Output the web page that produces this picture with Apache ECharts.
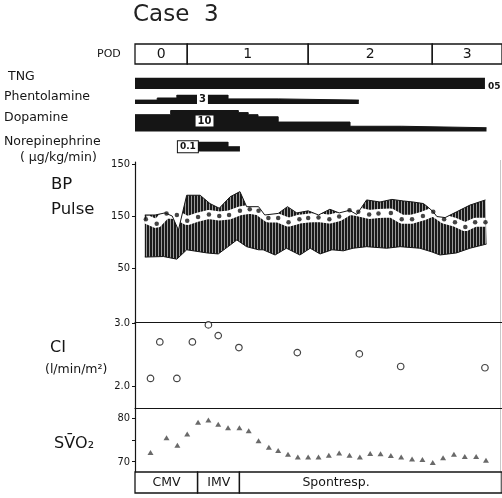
<!DOCTYPE html>
<html lang="en">
<head>
<meta charset="UTF-8">
<title>Case 3</title>
<script src="https://cdn.jsdelivr.net/npm/echarts@6/dist/echarts.min.js"></script>
<style>
  html, body { margin: 0; padding: 0; background: #fff; }
  #chart { width: 502px; height: 498px; }
</style>
</head>
<body>
<div id="chart"></div>
<script>
// time axis = hours from start of record
var xMax = 71;

// POD days
var podStart = [0, 10.1, 33.5, 57.5];
var podEnd = [10.1, 33.5, 57.5, 71];
var podLabels = ['0', '1', '2', '3'];

// drug infusions, step data [hour, dose µg/kg/min]
var tng = [[0, 0.5], [67.7, 0.5]];
var phentolamine = [[0, 1.3], [4.3, 2], [8.1, 3], [18.0, 1.7], [27.7, 1.3], [43.3, 1.3]];
var dopamine = [[0, 8], [6.9, 10], [20.0, 9], [21.9, 8], [23.8, 7], [27.7, 4.5], [41.6, 2.5], [51.6, 1.8], [68.0, 1.8]];
var norepinephrine = [[8.3, 0.1], [18.0, 0.05], [20.3, 0.05]];
var doseLabels = ['05', '3', '10', '0.1'];

// BP (mmHg) and pulse
var sysBP = [[1.9, 152], [3.9, 152], [5.8, 156], [7.2, 150], [8.4, 123], [10.0, 190], [12.6, 190], [14.5, 174],
  [16.3, 165], [18.4, 187], [20.3, 197], [21.6, 168], [23.9, 168], [25.1, 152], [27.7, 155], [29.5, 168],
  [31.3, 156], [33.5, 160], [35.5, 152], [37.7, 163], [39.5, 156], [41.5, 161], [42.9, 153], [44.8, 181],
  [47.4, 177], [49.7, 182], [51.9, 179], [53.8, 177], [55.8, 174], [56.7, 167], [57.7, 158], [58.4, 149],
  [60.0, 147], [62.2, 158], [64.8, 171], [67.8, 181]];
var diaBP = [[1.9, 71], [5.5, 72], [8.1, 67], [10.0, 85], [13.9, 79], [16.1, 77], [18.4, 94], [19.7, 104],
  [21.6, 91], [23.9, 85], [24.8, 85], [27.1, 75], [29.3, 88], [31.9, 75], [33.9, 88], [35.8, 77], [38.1, 85],
  [40.3, 83], [42.2, 88], [44.8, 91], [48.7, 88], [51.3, 91], [55.1, 88], [57.4, 81], [59.0, 75], [62.2, 79],
  [64.8, 88], [68.0, 96]];
var pulseTime = [2.1, 4.2, 6.1, 8.1, 10.1, 12.2, 14.3, 16.3, 18.2, 20.3, 22.2, 23.9, 25.8, 27.7, 29.7, 31.8, 33.5,
  35.5, 37.6, 39.5, 41.5, 43.2, 45.3, 47.1, 49.5, 51.6, 53.6, 55.7, 57.7, 59.8, 61.9, 63.9, 65.8, 67.8];
var pulseValue = [144, 135, 155, 152, 141, 148, 153, 150, 152, 160, 163, 160, 146, 146, 138, 144, 146,
  147, 144, 149, 161, 158, 153, 155, 156, 144, 144, 150, 158, 144, 138, 129, 138, 138];
var bpTicks = [50, 150, 250];
var bpTickLabels = ['50', '150', '150'];

// cardiac index
var ciTime = [3.0, 4.8, 8.1, 11.1, 14.2, 16.1, 20.1, 31.4, 43.4, 51.4, 67.7];
var ciValue = [2.12, 2.70, 2.12, 2.70, 2.97, 2.80, 2.61, 2.53, 2.51, 2.31, 2.29];
var ciTicks = [2.0, 3.0];

// SvO2 (%)
var svTime = [3.0, 6.1, 8.2, 10.1, 12.2, 14.2, 16.1, 18.0, 20.2, 22.0, 23.9, 25.9, 27.7, 29.6, 31.5, 33.5, 35.5,
  37.5, 39.5, 41.5, 43.5, 45.5, 47.5, 49.5, 51.5, 53.6, 55.6, 57.6, 59.6, 61.7, 63.8, 66.0, 67.9];
var svValue = [72.1, 75.5, 73.8, 76.4, 79.1, 79.6, 78.6, 77.8, 77.8, 77.1, 74.8, 73.3, 72.6, 71.7, 71.1, 71.1, 71.1,
  71.5, 72.0, 71.5, 71.1, 71.9, 71.8, 71.4, 71.1, 70.6, 70.5, 69.8, 70.9, 71.7, 71.2, 71.2, 70.3];
var svTicks = [70, 75, 80];
var svLabels = [70, 80];

// ventilation mode
var ventModes = ['CMV', 'IMV', 'Spontresp.'];
var ventStart = [0, 12.1, 20.2];
var ventEnd = [12.1, 20.2, 71];
var ventLabelAt = [6.1, 16.2, 38.9];

var ink = '#151515';
var font = 'DejaVu Sans';
var numFont = "'DejaVu Sans Condensed', 'DejaVu Sans'";

// vertical hatch for the BP band
var hatch = document.createElement('canvas');
hatch.width = 3; hatch.height = 2;
var hc = hatch.getContext('2d');
hc.fillStyle = '#9a9a9a'; hc.fillRect(0, 0, 3, 2);
hc.fillStyle = '#1a1a1a'; hc.fillRect(0, 0, 2, 2);

var myChart = echarts.init(document.getElementById('chart'));

var grids = [
  { top: 44, height: 20 },   // POD
  { top: 78, height: 11 },   // TNG
  { top: 95, height: 9 },    // Phentolamine
  { top: 110.5, height: 21 },// Dopamine
  { top: 142, height: 9.5 }, // Norepinephrine
  { top: 162, height: 160 }, // BP
  { top: 322, height: 86 },  // CI
  { top: 408, height: 64 },  // SvO2
  { top: 472, height: 21 }   // ventilation
].map(function (g) { return { left: 135, width: 367, top: g.top, height: g.height }; });

var xAxes = grids.map(function (g, i) {
  var ax = { gridIndex: i, type: 'value', min: 0, max: xMax, show: false };
  if (i === 6 || i === 7) {
    ax.show = true;
    ax.position = 'top';
    ax.axisLine = { show: true, onZero: false, lineStyle: { color: ink, width: 1.2 } };
    ax.axisTick = { show: false };
    ax.axisLabel = { show: false };
    ax.splitLine = { show: false };
  }
  return ax;
});

function hiddenY(i, max) {
  return { gridIndex: i, type: 'value', min: 0, max: max, show: false };
}
function shownY(i, min, max, ticks, labels, fmt) {
  return {
    gridIndex: i, type: 'value', min: min, max: max,
    axisLine: { show: true, onZero: false, lineStyle: { color: ink, width: 1.2 } },
    axisTick: { show: true, length: 3, customValues: ticks, lineStyle: { color: ink } },
    axisLabel: { show: true, customValues: labels, margin: 5, color: ink, fontSize: 11,
      fontFamily: numFont, formatter: fmt },
    splitLine: { show: false }
  };
}

var yAxes = [
  hiddenY(0, 1), hiddenY(1, 0.5), hiddenY(2, 3), hiddenY(3, 10), hiddenY(4, 0.1),
  shownY(5, -54, 254, bpTicks, bpTicks, function (v) { return bpTickLabels[bpTicks.indexOf(v)]; }),
  shownY(6, 1.651, 3.016, ciTicks, ciTicks, function (v) { return v.toFixed(1); }),
  shownY(7, 67.62, 82.37, svTicks, svLabels, function (v) { return String(v); }),
  hiddenY(8, 1)
];

function boxSeries(idx, starts, ends, labels, labelAt, fontSize) {
  return {
    type: 'custom', xAxisIndex: idx, yAxisIndex: idx, silent: true,
    data: starts.map(function (s, i) { return [s, ends[i], i]; }),
    renderItem: function (params, api) {
      var i = api.value(2);
      var p0 = api.coord([api.value(0), 1]);
      var p1 = api.coord([api.value(1), 0]);
      var cx = labelAt ? api.coord([labelAt[i], 0])[0] : (p0[0] + p1[0]) / 2;
      return {
        type: 'group',
        children: [
          { type: 'rect', shape: { x: p0[0], y: p0[1], width: p1[0] - p0[0], height: p1[1] - p0[1] },
            style: { fill: null, stroke: ink, lineWidth: 1.3 } },
          { type: 'text', style: { text: labels[i], x: cx, y: (p0[1] + p1[1]) / 2 + 0.5, align: 'center',
            verticalAlign: 'middle', fontSize: fontSize, fontFamily: font, fill: ink } }
        ]
      };
    }
  };
}

function drugSeries(idx, data, mark) {
  var s = {
    type: 'line', xAxisIndex: idx, yAxisIndex: idx, step: 'end', data: data, symbol: 'none',
    lineStyle: { color: ink, width: 1 }, areaStyle: { color: ink, opacity: 1 }, silent: true
  };
  if (mark) s.markPoint = { symbol: 'rect', symbolSize: 0, silent: true, data: [mark] };
  return s;
}

var labelBox = { show: true, color: ink, fontSize: 10, fontWeight: 'bold', fontFamily: font,
  backgroundColor: '#fff', padding: [1, 2, 0, 2], lineHeight: 10 };

var pulseData = pulseTime.map(function (t, i) { return [t, pulseValue[i]]; });

var option = {
  animation: false,
  backgroundColor: '#fff',
  grid: grids,
  xAxis: xAxes,
  yAxis: yAxes,
  graphic: [
    { type: 'text', left: 133, top: 4, style: { text: 'Case  3', fontSize: 23, fontFamily: font, fill: '#222' } },
    { type: 'text', x: 97, y: 54, style: { text: 'POD', fontSize: 11, fontFamily: font, fill: ink, verticalAlign: 'middle' } },
    { type: 'text', x: 8, y: 77, style: { text: 'TNG', fontSize: 12.5, fontFamily: font, fill: ink, verticalAlign: 'middle' } },
    { type: 'text', x: 4, y: 97, style: { text: 'Phentolamine', fontSize: 12.5, fontFamily: font, fill: ink, verticalAlign: 'middle' } },
    { type: 'text', x: 4, y: 118, style: { text: 'Dopamine', fontSize: 12.5, fontFamily: font, fill: ink, verticalAlign: 'middle' } },
    { type: 'text', x: 4, y: 142, style: { text: 'Norepinephrine', fontSize: 12.5, fontFamily: font, fill: ink, verticalAlign: 'middle' } },
    { type: 'text', x: 20, y: 158, style: { text: '( μg/kg/min)', fontSize: 12.5, fontFamily: font, fill: ink, verticalAlign: 'middle' } },
    { type: 'text', x: 51, y: 185, style: { text: 'BP', fontSize: 16.5, fontFamily: font, fill: ink, verticalAlign: 'middle' } },
    { type: 'text', x: 51, y: 210, style: { text: 'Pulse', fontSize: 16.5, fontFamily: font, fill: ink, verticalAlign: 'middle' } },
    { type: 'text', x: 50, y: 348, style: { text: 'CI', fontSize: 16, fontFamily: font, fill: ink, verticalAlign: 'middle' } },
    { type: 'text', x: 45, y: 370, style: { text: '(l/min/m²)', fontSize: 12.5, fontFamily: font, fill: ink, verticalAlign: 'middle' } },
    { type: 'text', x: 54, y: 444, style: { text: 'SV̄O₂', fontSize: 16, fontFamily: font, fill: ink, verticalAlign: 'middle' } },
    { type: 'line', shape: { x1: 500.5, y1: 160, x2: 500.5, y2: 493 }, style: { stroke: '#c8c8c8', lineWidth: 1 } }
  ],
  series: [
    boxSeries(0, podStart, podEnd, podLabels, null, 14),
    drugSeries(1, tng, { coord: [tng[tng.length - 1][0], 0.1],
      label: { show: true, position: 'right', distance: 3, formatter: doseLabels[0], color: ink, fontSize: 9, fontWeight: 'bold', fontFamily: font } }),
    drugSeries(2, phentolamine, { coord: [(phentolamine[2][0] + phentolamine[3][0]) / 2, phentolamine[2][1] / 2],
      label: Object.assign({}, labelBox, { position: 'inside', formatter: doseLabels[1] }) }),
    drugSeries(3, dopamine, { coord: [(dopamine[1][0] + dopamine[2][0]) / 2, dopamine[1][1] / 2],
      label: Object.assign({}, labelBox, { position: 'inside', formatter: doseLabels[2] }) }),
    drugSeries(4, norepinephrine, { coord: [norepinephrine[0][0], norepinephrine[0][1] / 2],
      label: Object.assign({}, labelBox, { position: 'right', distance: 0, formatter: doseLabels[3],
        borderColor: ink, borderWidth: 1, fontSize: 9 }) }),
    {
      // BP band between systolic and diastolic
      type: 'custom', xAxisIndex: 5, yAxisIndex: 5, silent: true, data: [[0, 0]], z: 1,
      renderItem: function (params, api) {
        var pts = sysBP.map(function (p) { return api.coord(p); });
        diaBP.slice().reverse().forEach(function (p) { pts.push(api.coord(p)); });
        return { type: 'polygon', shape: { points: pts },
          style: { fill: { image: hatch, repeat: 'repeat' }, stroke: null } };
      }
    },
    {
      type: 'line', xAxisIndex: 5, yAxisIndex: 5, symbol: 'none', silent: true, z: 2,
      data: pulseData,
      lineStyle: { color: '#fff', width: 9, cap: 'butt' }
    },
    { type: 'line', xAxisIndex: 5, yAxisIndex: 5, symbol: 'none', silent: true, data: sysBP, z: 3,
      lineStyle: { color: ink, width: 1 } },
    { type: 'line', xAxisIndex: 5, yAxisIndex: 5, symbol: 'none', silent: true, data: diaBP, z: 3,
      lineStyle: { color: ink, width: 1 } },
    {
      type: 'scatter', xAxisIndex: 5, yAxisIndex: 5, symbolSize: 4.5, silent: true, z: 5,
      data: pulseData,
      itemStyle: { color: ink }
    },
    {
      type: 'scatter', xAxisIndex: 6, yAxisIndex: 6, symbol: 'circle', symbolSize: 6.5, silent: true,
      data: ciTime.map(function (t, i) { return [t, ciValue[i]]; }),
      itemStyle: { color: '#fff', borderColor: ink, borderWidth: 1.2 }
    },
    {
      type: 'scatter', xAxisIndex: 7, yAxisIndex: 7, symbol: 'triangle', symbolSize: [6, 5], silent: true,
      data: svTime.map(function (t, i) { return [t, svValue[i]]; }),
      itemStyle: { color: '#444' }
    },
    boxSeries(8, ventStart, ventEnd, ventModes, ventLabelAt, 12.5)
  ]
};

myChart.setOption(option);
</script>
</body>
</html>
